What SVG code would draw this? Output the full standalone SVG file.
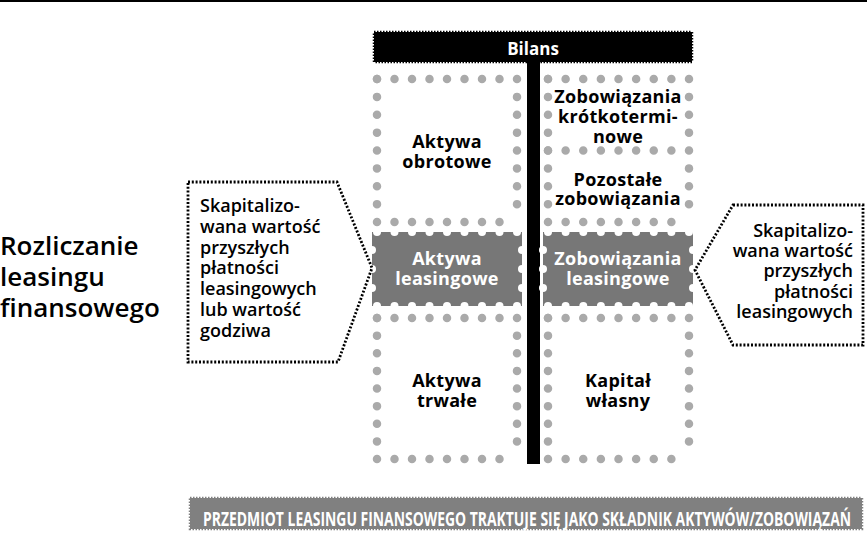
<svg xmlns="http://www.w3.org/2000/svg" width="867" height="537" viewBox="0 0 867 537">
<style>
.t{font-family:"Open Sans","Liberation Sans",sans-serif;font-weight:600;font-size:18px;fill:#000}
.bx{text-anchor:middle;letter-spacing:0.3px;font-weight:700}
.w{fill:#fff}
.d{fill:none;stroke:#aaa;stroke-width:8.5;stroke-linecap:round}
.h1{stroke-dasharray:0 17.5}
.h2{stroke-dasharray:0 17.625}
.v1{stroke-dasharray:0 17.875}
.v2{stroke-dasharray:0 17.625}
.pent{fill:#fff;stroke:#000;stroke-width:2.8;stroke-dasharray:2 1.8}
.sc{fill:#fff}
</style>
<rect width="867" height="537" fill="#fff"/>
<rect x="0" y="0" width="867" height="2" fill="#000"/>

<g id="title">
<text class="t" x="0" y="255" style="font-size:26px">Rozliczanie</text>
<text class="t" x="0" y="286" style="font-size:26px">leasingu</text>
<text class="t" x="0" y="317" style="font-size:26px">finansowego</text>
</g>

<g id="bilans">
<rect x="374" y="32" width="318" height="30" fill="#000" stroke="#000" stroke-width="2.5" stroke-dasharray="1.5 1.5"/>
<text class="t w" x="533" y="55" text-anchor="middle" style="font-size:17px;font-weight:700">Bilans</text>
</g>

<g id="divider">
<rect x="527" y="62" width="13" height="402" fill="#000"/>
</g>

<g id="aktywa-obrotowe">
<path class="d h1" d="M377,79H517M377,222H517"/>
<path class="d v1" d="M377,79V222M517,79V222"/>
<text class="t bx" x="447" y="148">Aktywa</text>
<text class="t bx" x="447" y="168">obrotowe</text>
</g>

<g id="zobowiazania-krotkoterminowe">
<path class="d h2" d="M548,79H689M548,150.5H689"/>
<path class="d v1" d="M548,79V150.5M689,79V150.5"/>
<text class="t bx" x="618" y="103">Zobowiązania</text>
<text class="t bx" x="618" y="123">krótkotermi-</text>
<text class="t bx" x="618" y="143">nowe</text>
</g>

<g id="pozostale-zobowiazania">
<path class="d h2" d="M548,222H689"/>
<path class="d v1" d="M548,150.5V222M689,150.5V222"/>
<text class="t bx" x="618" y="186">Pozostałe</text>
<text class="t bx" x="618" y="205">zobowiązania</text>
</g>

<g id="aktywa-leasingowe">
<rect x="372" y="232" width="150" height="74" fill="#777"/>
<g class="sc">
<circle cx="377" cy="232" r="4"/><circle cx="394.5" cy="232" r="4"/><circle cx="412" cy="232" r="4"/><circle cx="429.5" cy="232" r="4"/><circle cx="447" cy="232" r="4"/><circle cx="464.5" cy="232" r="4"/><circle cx="482" cy="232" r="4"/><circle cx="499.5" cy="232" r="4"/><circle cx="517" cy="232" r="4"/>
<circle cx="377" cy="306" r="4"/><circle cx="394.5" cy="306" r="4"/><circle cx="412" cy="306" r="4"/><circle cx="429.5" cy="306" r="4"/><circle cx="447" cy="306" r="4"/><circle cx="464.5" cy="306" r="4"/><circle cx="482" cy="306" r="4"/><circle cx="499.5" cy="306" r="4"/><circle cx="517" cy="306" r="4"/>
<circle cx="372" cy="250" r="4"/><circle cx="372" cy="269" r="4"/><circle cx="372" cy="288" r="4"/>
<circle cx="522" cy="250" r="4"/><circle cx="522" cy="269" r="4"/><circle cx="522" cy="288" r="4"/>
</g>
<text class="t bx w" x="447" y="265">Aktywa</text>
<text class="t bx w" x="447" y="285">leasingowe</text>
</g>

<g id="zobowiazania-leasingowe">
<rect x="543" y="232" width="150" height="74" fill="#777"/>
<g class="sc">
<circle cx="548" cy="232" r="4"/><circle cx="565.6" cy="232" r="4"/><circle cx="583.3" cy="232" r="4"/><circle cx="600.9" cy="232" r="4"/><circle cx="618.5" cy="232" r="4"/><circle cx="636.1" cy="232" r="4"/><circle cx="653.8" cy="232" r="4"/><circle cx="671.4" cy="232" r="4"/><circle cx="689" cy="232" r="4"/>
<circle cx="548" cy="306" r="4"/><circle cx="565.6" cy="306" r="4"/><circle cx="583.3" cy="306" r="4"/><circle cx="600.9" cy="306" r="4"/><circle cx="618.5" cy="306" r="4"/><circle cx="636.1" cy="306" r="4"/><circle cx="653.8" cy="306" r="4"/><circle cx="671.4" cy="306" r="4"/><circle cx="689" cy="306" r="4"/>
<circle cx="543" cy="250" r="4"/><circle cx="543" cy="269" r="4"/><circle cx="543" cy="288" r="4"/>
<circle cx="693" cy="250" r="4"/><circle cx="693" cy="269" r="4"/><circle cx="693" cy="288" r="4"/>
</g>
<text class="t bx w" x="618" y="265">Zobowiązania</text>
<text class="t bx w" x="618" y="285">leasingowe</text>
</g>

<g id="aktywa-trwale">
<path class="d h1" d="M377,318H517M377,459H517"/>
<path class="d v2" d="M377,318V459M517,318V459"/>
<text class="t bx" x="447" y="387">Aktywa</text>
<text class="t bx" x="447" y="407">trwałe</text>
</g>

<g id="kapital-wlasny">
<path class="d h2" d="M548,318H689M548,459H689"/>
<path class="d v2" d="M548,318V459M689,318V459"/>
<text class="t bx" x="618" y="387">Kapitał</text>
<text class="t bx" x="618" y="407">własny</text>
</g>

<g id="left-note">
<path class="pent" d="M188,182H337L372,268L338,362H188Z"/>
<text class="t" x="200" y="212">Skapitalizo-</text>
<text class="t" x="200" y="233">wana wartość</text>
<text class="t" x="200" y="254">przyszłych</text>
<text class="t" x="200" y="274">płatności</text>
<text class="t" x="200" y="295">leasingowych</text>
<text class="t" x="200" y="316">lub wartość</text>
<text class="t" x="200" y="337">godziwa</text>
</g>

<g id="right-note">
<path class="pent" d="M733,205H863V345H733L695,270Z"/>
<text class="t" x="853" y="237" text-anchor="end">Skapitalizo-</text>
<text class="t" x="853" y="257" text-anchor="end">wana wartość</text>
<text class="t" x="853" y="277" text-anchor="end">przyszłych</text>
<text class="t" x="853" y="298" text-anchor="end">płatności</text>
<text class="t" x="853" y="318" text-anchor="end">leasingowych</text>
</g>

<g id="banner">
<rect x="190" y="498" width="672" height="31" fill="#808080" stroke="#808080" stroke-width="2.5" stroke-dasharray="1.5 1.5"/>
<text class="t w" transform="translate(203,526) scale(0.68,1)" x="0" y="0" textLength="953" lengthAdjust="spacingAndGlyphs" style="font-size:20px;font-weight:700">PRZEDMIOT LEASINGU FINANSOWEGO TRAKTUJE SIĘ JAKO SKŁADNIK AKTYWÓW/ZOBOWIĄZAŃ</text>
</g>
</svg>
